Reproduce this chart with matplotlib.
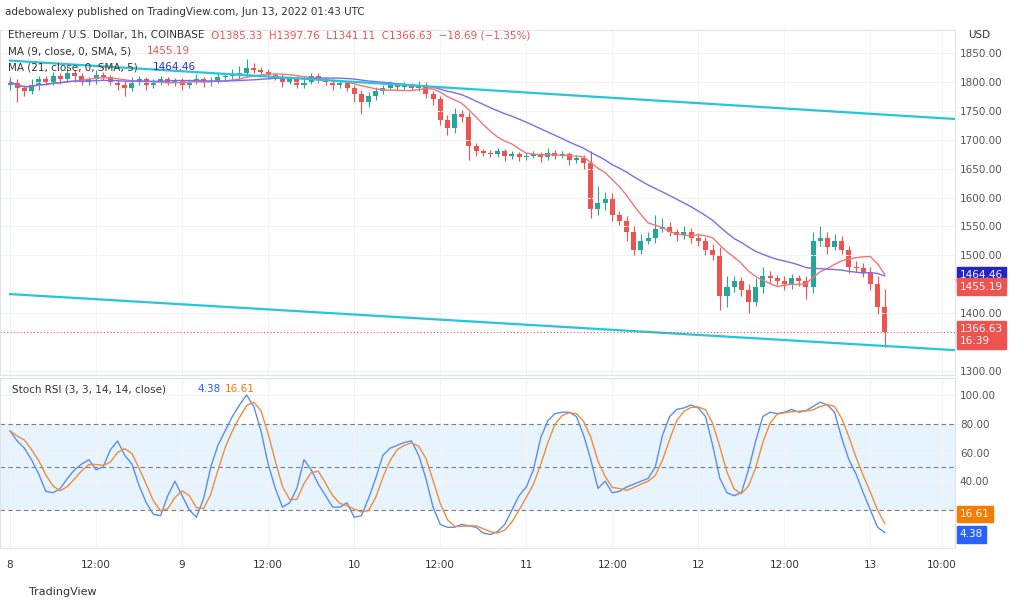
import matplotlib
matplotlib.use("Agg")
import matplotlib.pyplot as plt
import numpy as np
import pandas as pd
from matplotlib.patches import Rectangle

closes = [1800,1790,1785,1795,1805,1800,1810,1805,1815,1810,1800,1805,1812,1808,1800,1795,1790,1800,1805,1795,1800,1805,1798,1802,
          1795,1800,1805,1798,1802,1808,1810,1812,1815,1825,1820,1818,1812,1808,1800,1805,1795,1800,1810,1805,1800,1795,1798,1790,
          1780,1765,1775,1785,1790,1795,1792,1795,1790,1795,1780,1770,1735,1720,1745,1740,1690,1680,1678,1675,1680,1672,1675,1670,
          1672,1675,1670,1678,1672,1675,1665,1668,1660,1580,1590,1600,1570,1560,1540,1510,1525,1530,1545,1550,1540,1535,1540,1530,
          1525,1510,1500,1430,1445,1455,1440,1420,1445,1465,1460,1455,1450,1460,1455,1445,1525,1530,1515,1525,1510,1480,1478,1470,
          1450,1410,1366.63]
first_open = 1795
wick_up = [8,6,5,10,6,5,8,6,10,5,6,4,8,5,4,5,6,8,5,4,6,5,4,5,
           5,6,8,4,6,8,5,10,12,15,8,6,5,4,6,5,6,8,6,5,4,5,6,4,
           5,6,8,6,5,6,4,5,4,6,5,4,6,8,10,6,8,5,4,5,6,4,5,4,
           5,6,4,8,5,6,4,5,6,20,30,10,8,6,8,10,12,10,25,15,8,6,10,8,
           8,6,10,15,20,10,8,10,15,15,8,6,10,8,6,10,15,20,10,12,8,6,10,8,
           10,15,31.13]
wick_dn = [8,25,10,6,8,5,6,8,5,10,6,5,8,5,6,8,15,5,6,8,5,6,4,5,
           8,5,4,6,5,4,6,5,8,6,5,4,6,5,8,4,6,5,4,6,5,8,6,5,
           15,20,8,6,5,4,6,5,4,5,8,10,10,12,8,10,25,8,6,5,4,8,5,6,
           5,4,8,5,6,4,8,5,10,15,10,12,10,8,15,10,8,6,8,5,6,10,6,8,
           8,10,8,25,20,8,10,20,8,10,8,6,10,8,8,20,10,8,12,6,8,10,6,8,
           10,12,25.52]
stoch_k = [75,68,63,55,45,33,32,35,42,48,52,55,48,50,62,68,58,52,37,25,17,16,30,40,
           30,20,15,28,50,65,75,85,93,100,92,75,52,35,22,25,35,55,48,38,30,22,22,25,
           15,16,28,42,58,63,65,67,68,58,42,22,10,8,8,10,9,8,4,3,5,10,20,30,
           36,48,70,82,87,88,88,85,72,55,35,40,32,33,36,38,40,42,50,72,85,90,91,93,
           91,85,65,42,32,30,32,48,68,85,88,87,88,90,88,89,92,95,93,88,70,55,45,32,
           20,8,4.38]
day_labels = ["8","12:00","9","12:00","10","12:00","11","12:00","12","12:00","13","10:00"]
day_tick_idx = [0,12,24,36,48,60,72,84,96,108,120,130]
upper_channel = [(0, 1837), (131.8, 1736)]
lower_channel = [(0, 1433), (131.8, 1336)]
price_ticks = [1300, 1400, 1500, 1550, 1600, 1650, 1700, 1750, 1800, 1850]
rsi_ticks = [40, 60, 80, 100]

GREEN, RED = "#26a69a", "#ef5350"
n = len(closes)
c = np.array(closes, float)
o = np.concatenate([[first_open], c[:-1]])
hi = np.maximum(o, c) + np.array(wick_up)
lo = np.minimum(o, c) - np.array(wick_dn)
s = pd.Series(c)
ma9 = s.rolling(9, min_periods=1).mean()
ma21 = s.rolling(21, min_periods=1).mean()
k = pd.Series(stoch_k, dtype=float)
d = k.rolling(3, min_periods=1).mean()
x = np.arange(n)

fig = plt.figure(figsize=(10.24, 6.08), dpi=100)
W = 955/1024
ax = fig.add_axes([0, 1-375/608, W, 345/608])
ax2 = fig.add_axes([0, 1-548/608, W, 170/608])
xl = (-1.4, 131.8)
for a in (ax, ax2):
    a.set_xlim(*xl)
    for sp in a.spines.values():
        sp.set_color("#e0e3eb")
    a.tick_params(left=False, labelleft=False, bottom=False, labelbottom=False,
                  right=True, labelright=True, labelsize=7.5, colors="#555", length=0)
    a.set_xticks(day_tick_idx)
    a.grid(True, color="#f0f3fa", lw=0.8)

ax.set_ylim(1293, 1890)
ax.set_yticks(price_ticks)
ax.set_yticklabels([f"{v:.2f}" for v in price_ticks])
for i in range(n):
    col = GREEN if c[i] >= o[i] else RED
    ax.vlines(i, lo[i], hi[i], color=col, lw=0.8)
    ax.add_patch(Rectangle((i-0.35, min(o[i], c[i])), 0.7, max(abs(c[i]-o[i]), 0.8), color=col, lw=0))
ax.plot(x, ma9, color="#f07878", lw=1)
ax.plot(x, ma21, color="#7b6cf0", lw=1)
for ch in (upper_channel, lower_channel):
    ax.plot([ch[0][0], ch[1][0]], [ch[0][1], ch[1][1]], color="#26c6da", lw=1.6)
ax.axhline(c[-1], color=RED, ls=(0, (1, 2)), lw=0.8)

def tag(a, y, txt, col):
    a.annotate(txt, xy=(1.005, y), xycoords=("axes fraction", "data"), fontsize=7.5, color="white",
               va="center", ha="left", annotation_clip=False,
               bbox=dict(boxstyle="square,pad=0.3", fc=col, ec=col))
tag(ax, 1466, "1464.46", "#2323c8")
tag(ax, 1446, "1455.19", RED)
tag(ax, 1362, "1366.63\n16:39", RED)

ax2.set_ylim(-6.4, 111.8)
ax2.set_yticks(rsi_ticks)
ax2.set_yticklabels([f"{v:.2f}" for v in rsi_ticks])
ax2.axhspan(20, 80, color="#e3f2fd", alpha=0.8, lw=0)
for lv in (20, 50, 80):
    ax2.axhline(lv, color="#787b86", ls=(0, (4, 3)), lw=0.8)
ax2.plot(x, k, color="#5b8def", lw=1)
ax2.plot(x, d, color="#f08c3c", lw=1)
tag(ax2, 17, "16.61", "#f57c00")
tag(ax2, 3, "4.38", "#2962ff")
for t, lab in zip(day_tick_idx, day_labels):
    xf = (t - xl[0]) / (xl[1] - xl[0]) * W
    fig.text(xf, 1-565/608, lab, fontsize=7.5, color="#333", ha="center", va="center")

fig.text(0.005, 1-12/608, "adebowalexy published on TradingView.com, Jun 13, 2022 01:43 UTC", fontsize=7.5, color="#333", va="center")
fig.text(0.008, 1-35/608, "Ethereum / U.S. Dollar, 1h, COINBASE", fontsize=7.5, color="#333", va="center")
fig.text(0.206, 1-35/608, "O1385.33  H1397.76  L1341.11  C1366.63  −18.69 (−1.35%)", fontsize=7.5, color=RED, va="center")
fig.text(0.008, 1-51/608, "MA (9, close, 0, SMA, 5)", fontsize=7.5, color="#333", va="center")
fig.text(0.143, 1-51/608, "1455.19", fontsize=7.5, color=RED, va="center")
fig.text(0.008, 1-67/608, "MA (21, close, 0, SMA, 5)", fontsize=7.5, color="#333", va="center")
fig.text(0.149, 1-67/608, "1464.46", fontsize=7.5, color="#2c2cd8", va="center")
fig.text(0.945, 1-35/608, "USD", fontsize=7.5, color="#333", va="center")
fig.text(0.012, 1-389/608, "Stoch RSI (3, 3, 14, 14, close)", fontsize=7.5, color="#333", va="center")
fig.text(0.193, 1-389/608, "4.38", fontsize=7.5, color="#2962ff", va="center")
fig.text(0.22, 1-389/608, "16.61", fontsize=7.5, color="#f57c00", va="center")
fig.text(0.028, 1-592/608, "TradingView", fontsize=8, color="#333", va="center")
fig.savefig("out.png", dpi=100)
